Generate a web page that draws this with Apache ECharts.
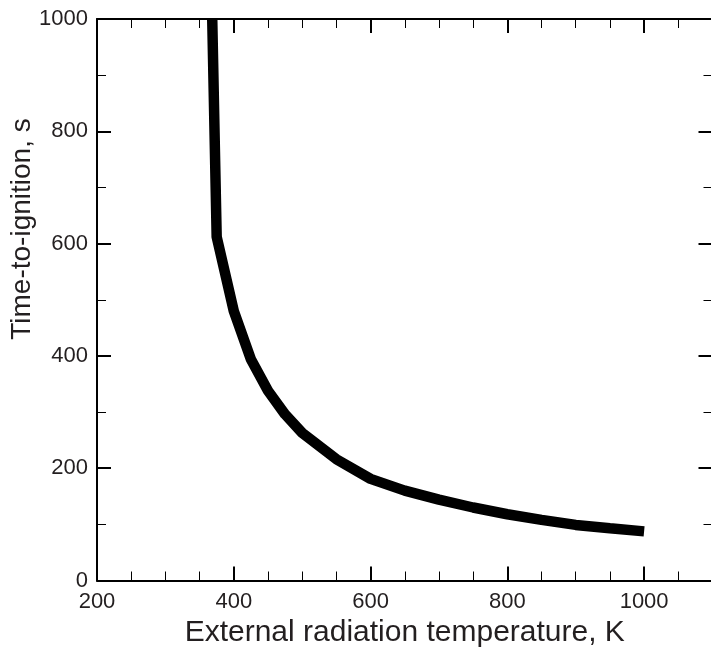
<!DOCTYPE html>
<html><head><meta charset="utf-8">
<script src="https://cdn.jsdelivr.net/npm/echarts@6/dist/echarts.min.js"></script>
<style>html,body{margin:0;padding:0;background:#fff}#c{width:711px;height:652px}</style>
</head><body><div id="c"></div>
<script>
// Data
const temperatureK = [368.5, 375, 400, 425, 450, 475, 500, 550, 600, 650, 700, 750, 800, 850, 900, 950, 1000];
const ignitionTimeS = [1000, 612, 480, 394, 338, 296, 263, 216, 181, 160, 144, 130, 118, 108, 99, 93, 87.5];
const xTickLabels = [200, 400, 600, 800, 1000];
const yTickLabels = [0, 200, 400, 600, 800, 1000];
const xTitle = 'External radiation temperature, K';
const yTitle = 'Time-to-ignition, s';

const FONT = '"Liberation Sans", Arial, Helvetica, sans-serif';
const TXT = '#231f20';
const chart = echarts.init(document.getElementById('c'), null, {renderer: 'canvas'});

function axisBase(extra) {
  return Object.assign({
    type: 'value',
    axisLine: {show: true, onZero: false, lineStyle: {color: '#000', width: 2}},
    axisTick: {show: true, inside: true, length: 14, lineStyle: {color: '#000', width: 2}},
    minorTick: {show: true, length: 9, lineStyle: {color: '#000', width: 1}},
    splitLine: {show: false},
    minorSplitLine: {show: false}
  }, extra);
}

const data = temperatureK.map((t, i) => [t, ignitionTimeS[i]]);

chart.setOption({
  animation: false,
  backgroundColor: '#fff',
  grid: {left: 97, top: 19, width: 615.5, height: 561.5, containLabel: false, outerBoundsMode: 'none'},
  xAxis: [
    axisBase({
      position: 'bottom', min: 200, max: 1100, interval: 200,
      minorTick: {show: true, splitNumber: 4, length: 9, lineStyle: {color: '#000', width: 1}},
      axisLabel: {show: true, fontSize: 22, color: TXT, fontFamily: FONT, margin: 10,
        formatter: v => xTickLabels.indexOf(v) >= 0 ? String(v) : ''},
      name: xTitle, nameLocation: 'middle', nameGap: 36,
      nameTextStyle: {fontSize: 30, color: TXT, fontFamily: FONT}
    }),
    axisBase({
      position: 'top', min: 200, max: 1100, interval: 200,
      minorTick: {show: true, splitNumber: 4, length: 9, lineStyle: {color: '#000', width: 1}},
      axisLabel: {show: false}
    })
  ],
  yAxis: [
    axisBase({
      position: 'left', min: 0, max: 1000, interval: 200,
      minorTick: {show: true, splitNumber: 2, length: 9, lineStyle: {color: '#000', width: 1}},
      axisLabel: {show: true, fontSize: 22, color: TXT, fontFamily: FONT, margin: 9,
        formatter: v => yTickLabels.indexOf(v) >= 0 ? String(v) : ''}
    }),
    axisBase({
      position: 'right', min: 0, max: 1000, interval: 200,
      minorTick: {show: true, splitNumber: 2, length: 9, lineStyle: {color: '#000', width: 1}},
      axisLabel: {show: false}
    })
  ],
  graphic: [{
    type: 'text', x: 22, y: 229, rotation: Math.PI / 2,
    style: {text: yTitle, fontSize: 28, fill: TXT, fontFamily: FONT, align: 'center', verticalAlign: 'middle'}
  }],
  series: [{
    type: 'line', xAxisIndex: 0, yAxisIndex: 0, data: data,
    symbol: 'none', smooth: false,
    lineStyle: {color: '#000', width: 10.5}
  }]
});
</script></body></html>
